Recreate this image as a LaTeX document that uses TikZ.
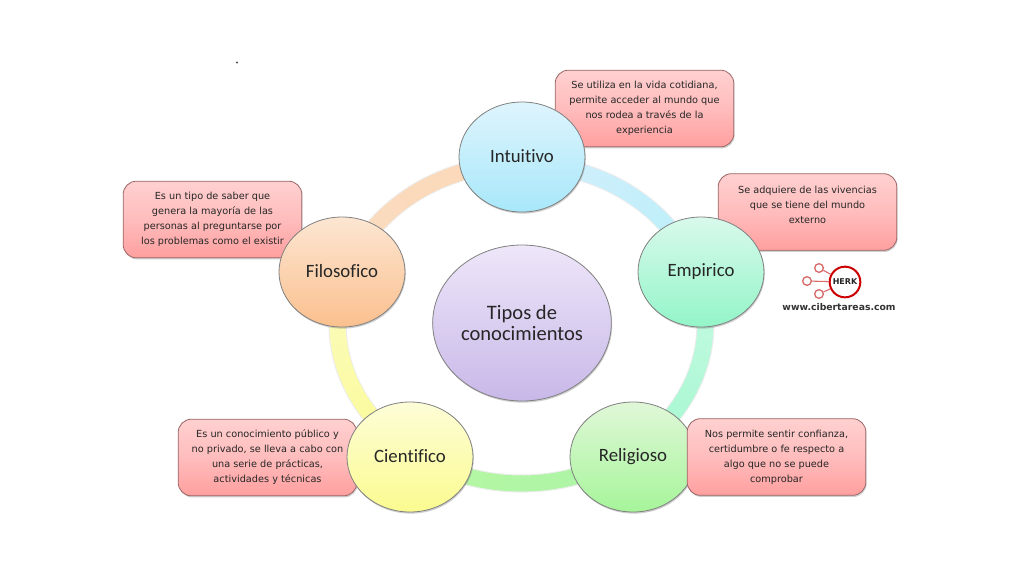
\documentclass[tikz,border=0pt]{standalone}
\usepackage{fontspec}
\setmainfont{DejaVu Sans}
\newfontfamily\carl[Ligatures=NoCommon]{Carlito}
\usetikzlibrary{shapes.geometric,shadows,calc}
\definecolor{a1}{HTML}{D5F0FB}\definecolor{a2}{HTML}{B8EEFA}
\definecolor{b1}{HTML}{C8FAE3}\definecolor{b2}{HTML}{A2F7CF}
\definecolor{c1}{HTML}{ABF5A5}\definecolor{c2}{HTML}{B6F6A4}
\definecolor{d1}{HTML}{FBFB96}\definecolor{d2}{HTML}{FBFBC0}
\definecolor{e1}{HTML}{FBDCC0}\definecolor{e2}{HTML}{FBD8B8}
\definecolor{rednoteA}{HTML}{FFD0D0}\definecolor{rednoteB}{HTML}{FF9F9F}
\definecolor{logored}{HTML}{D86A6A}
\tikzset{
  softshadow/.style={drop shadow={shadow xshift=0.6pt,shadow yshift=-1.2pt,fill=black!55,opacity=.35}},
  topic/.style={ellipse,minimum width=94.5pt,minimum height=82.5pt,inner sep=0pt,draw=black!50,line width=.6pt,softshadow,
    font=\carl\fontsize{14.1pt}{16pt}\selectfont,text=black!85},
  note/.style={rectangle,rounded corners=10pt,minimum width=134pt,minimum height=57.5pt,inner sep=0pt,align=center,
    draw=red!35!black!60,line width=.6pt,top color=rednoteA,bottom color=rednoteB,middle color=rednoteA!60!rednoteB,softshadow,
    font=\fontsize{7.3pt}{11.25pt}\selectfont,text=black!85},
  ringseg/.style={line width=12pt,line cap=butt},
  ringedge/.style={line width=13.6pt,draw=black,opacity=.07},
  logobub/.style={circle,draw=logored,line width=1pt,minimum size=6.5pt,inner sep=0pt},
}
\begin{document}
\begin{tikzpicture}[x=0.75pt,y=-0.75pt]
\useasboundingbox (0,0) rectangle (1024,576);
\fill[white] (0,0) rectangle (1024,576);
\coordinate (ring) at (521.5,323.5);
\draw[ringedge] (ring) ellipse (184 and 160);
\foreach \ca/\cb/\s in {a1/a2/-90,b1/b2/-18,c1/c2/54,d1/d2/126,e1/e2/198}{
  \foreach \i in {0,...,35}{
    \pgfmathsetmacro\p{100-\i*100/35}
    \pgfmathsetmacro\aa{\s+2*\i}
    \pgfmathsetmacro\ab{\s+2*\i+2.4}
    \draw[ringseg,draw=\ca!\p!\cb] ($(ring)+(\aa:184 and 160)$) -- ($(ring)+(\ab:184 and 160)$);
  }
}
\node[note] (n1) at (644.5,108.5) {Se utiliza en la vida cotidiana,\\permite acceder al mundo que\\nos rodea a través de la\\experiencia};
\node[note] (n2) at (807.5,212) {Se adquiere de las vivencias\\que se tiene del mundo\\externo\\[0pt]};
\node[note] (n5) at (212.5,219.5) {Es un tipo de saber que\\genera la mayoría de las\\personas al preguntarse por\\los problemas como el existir};
\node[note] (n4) at (267.5,457.5) {Es un conocimiento público y\\no privado,  se lleva a cabo con\\una serie de prácticas,\\actividades y técnicas};
\node[topic,top color={rgb,255:red,222;green,244;blue,253},bottom color={rgb,255:red,168;green,232;blue,250}] (intu) at (522,157) {\raisebox{1pt}{Intuitivo}};
\node[topic,top color={rgb,255:red,217;green,249;blue,236},bottom color={rgb,255:red,147;green,245;blue,200}] (emp) at (701,272) {\raisebox{1pt}{Empirico}};
\node[topic,top color={rgb,255:red,224;green,247;blue,216},bottom color={rgb,255:red,166;green,245;blue,154}] (rel) at (633,457) {\raisebox{1pt}{Religioso}};
\node[topic,top color={rgb,255:red,253;green,253;blue,216},bottom color={rgb,255:red,251;green,251;blue,144}] (cie) at (410,457) {\raisebox{1pt}{Cientifico}};
\node[topic,top color={rgb,255:red,252;green,230;blue,210},bottom color={rgb,255:red,251;green,192;blue,142}] (fil) at (342,272) {\raisebox{1pt}{Filosofico}};
\node[topic,minimum width=134pt,minimum height=117pt,align=center,font=\carl\fontsize{15.4pt}{15.2pt}\selectfont,
  top color={rgb,255:red,238;green,230;blue,249},bottom color={rgb,255:red,200;green,184;blue,232}] (cen) at (522,323) {Tipos de\\conocimientos};
\node[note] (n3) at (776.5,457) {Nos permite sentir confianza,\\certidumbre o fe respecto a\\algo que no se puede\\comprobar};
% logo
\node[circle,draw=red!80!black,line width=1.5pt,minimum size=23pt,inner sep=0pt,font=\bfseries\fontsize{6pt}{6pt}\selectfont,text=black!85] (lg) at (845,282) {HERK};
\node[logobub] (l1) at (819,268) {};
\node[logobub] (l2) at (807,281) {};
\node[logobub] (l3) at (819,294) {};
\draw[logored,line width=.8pt] (l1)--(lg) (l2)--(lg) (l3)--(lg);
\node[font=\bfseries\fontsize{6.95pt}{9pt}\selectfont,text=black!80,inner sep=0pt] (url) at (839,307) {www.cibertareas.com};
\node[circle,fill=black!70,inner sep=0pt,minimum size=1.6pt] (dot) at (237,62.5) {};
\end{tikzpicture}
\end{document}
